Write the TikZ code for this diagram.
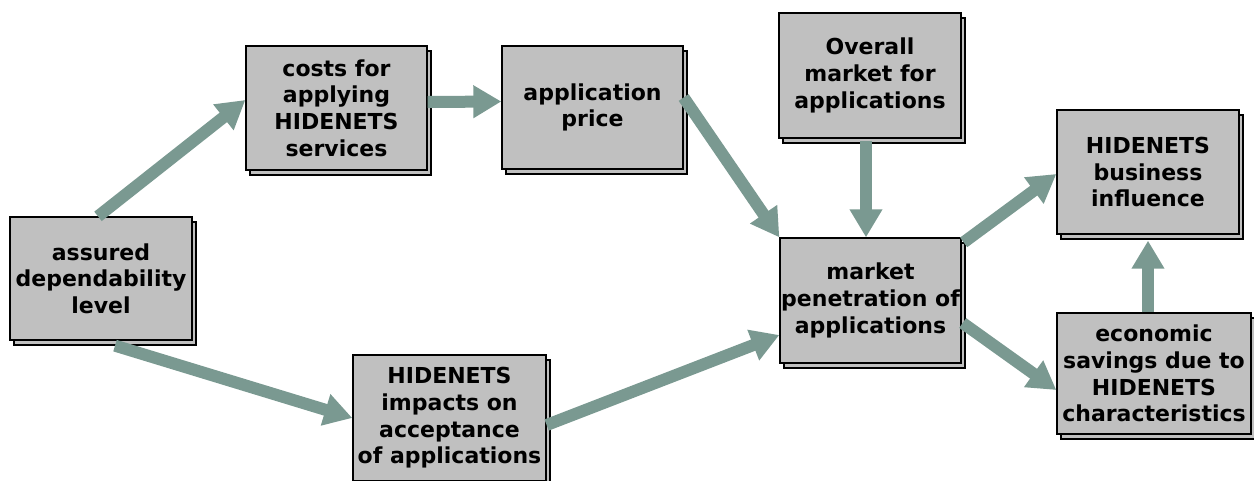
\documentclass[tikz,border=0pt]{standalone}
\usepackage{fontspec}
\usetikzlibrary{arrows.meta,shadows,calc}
\newfontfamily\boxfont{DejaVu Sans}
\definecolor{boxgray}{RGB}{192,192,192}
\definecolor{arrowc}{RGB}{122,153,145}
\tikzset{
  box/.style={draw=black, line width=1.3pt, fill=boxgray, align=center, inner sep=0pt,
    font=\boxfont\bfseries\fontsize{22}{26.7}\selectfont,
    copy shadow={shadow xshift=4pt, shadow yshift=-5pt}},
  arr/.style={line width=12pt, draw=arrowc, -{Triangle[length=28pt,width=31pt,fill=arrowc]}}
}
\begin{document}
\begin{tikzpicture}[x=1pt,y=-1pt]
\useasboundingbox (0,0) rectangle (1254,480);
\node[box, minimum width=182pt, minimum height=123pt] (assured) at (101,278.5) {assured\\dependability\\level};
\node[box, minimum width=181pt, minimum height=124pt] (costs) at (336.5,108) {costs for\\applying\\HIDENETS\\services};
\node[box, minimum width=181pt, minimum height=123pt] (price) at (592.5,107.5) {application\\price};
\node[box, minimum width=182pt, minimum height=125pt] (overall) at (870,75.5) {Overall\\market for\\applications};
\node[box, minimum width=181pt, minimum height=125pt] (market) at (870.5,300.5) {market\\penetration of\\applications};
\node[box, minimum width=182pt, minimum height=124pt] (business) at (1148,172) {HIDENETS\\business\\influence};
\node[box, minimum width=194pt, minimum height=121pt] (economic) at (1154,373.5) {economic\\savings due to\\HIDENETS\\characteristics};
\node[box, minimum width=193pt, minimum height=126pt] (impacts) at (449.5,418) {HIDENETS\\impacts on\\acceptance\\of applications};

\draw[arr] ([xshift=-3pt]assured.north) -- ([yshift=8pt]costs.west);
\draw[arr] ([xshift=14pt,yshift=-5pt]assured.south) -- (impacts.west);
\draw[arr] ([yshift=6pt]costs.east) -- ([yshift=6pt]price.west);
\draw[arr] ([yshift=10pt]price.east) -- (market.north west);
\draw[arr] ([xshift=-4pt,yshift=-2pt]overall.south) -- ([xshift=-4.5pt]market.north);
\draw[arr] ([yshift=-7pt]impacts.east) -- ([yshift=-34.5pt]market.west);
\draw[arr] ([xshift=2pt,yshift=-5pt]market.north east) -- ([yshift=-2pt]business.west);
\draw[arr] ([xshift=1pt,yshift=-22.5pt]market.east) -- ([yshift=-16.5pt]economic.west);
\draw[arr] ([xshift=-6pt]economic.north) -- ([xshift=0pt,yshift=-6pt]business.south);
\end{tikzpicture}
\end{document}
